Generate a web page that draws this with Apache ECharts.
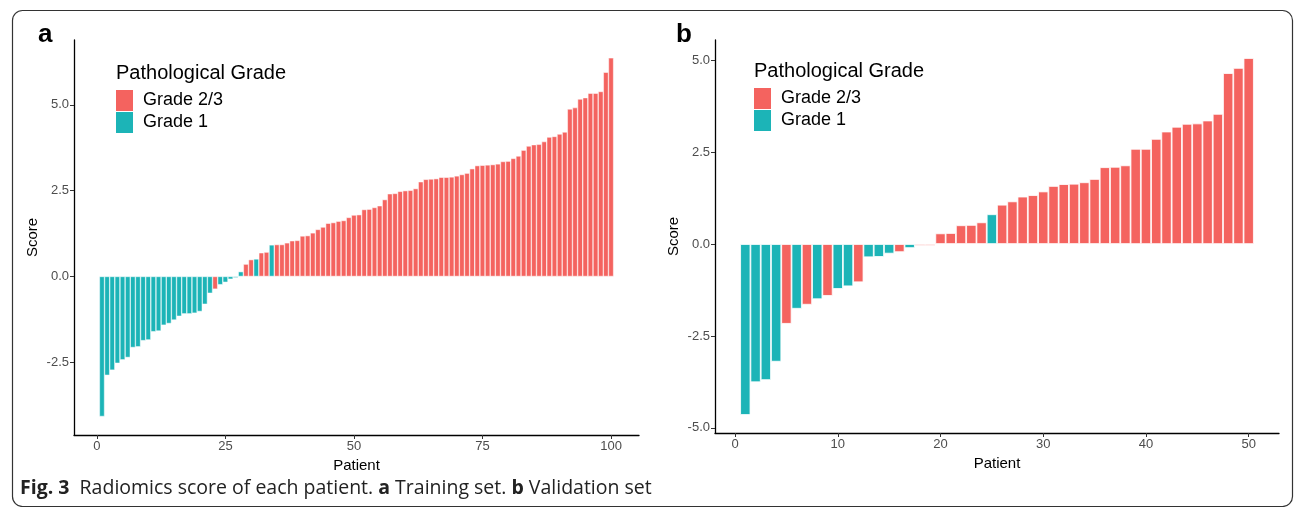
<!DOCTYPE html>
<html>
<head>
<meta charset="utf-8">
<script src="https://cdn.jsdelivr.net/npm/echarts@6/dist/echarts.min.js"></script>
<style>
  html, body { margin: 0; padding: 0; background: #fff; }
  #chart { width: 1295px; height: 507px; }
</style>
</head>
<body>
<div id="chart"></div>
<script>
// Training set (a): radiomics score per patient, sorted
const scoresA = [
  -4.08, -2.88, -2.73, -2.53, -2.43, -2.36, -2.07, -2.05, -1.87, -1.85,
  -1.61, -1.59, -1.42, -1.37, -1.27, -1.16, -1.09, -1.09, -1.07, -1.02,
  -0.81, -0.49, -0.37, -0.24, -0.17, -0.08, -0.04, 0.14, 0.36, 0.49,
  0.51, 0.69, 0.71, 0.92, 0.93, 0.93, 0.98, 1.04, 1.05, 1.18,
  1.19, 1.27, 1.37, 1.44, 1.55, 1.57, 1.61, 1.63, 1.72, 1.79,
  1.80, 1.95, 1.96, 2.01, 2.06, 2.24, 2.41, 2.42, 2.48, 2.50,
  2.51, 2.56, 2.76, 2.83, 2.84, 2.85, 2.89, 2.89, 2.90, 2.93,
  2.97, 3.01, 3.14, 3.23, 3.24, 3.25, 3.26, 3.28, 3.35, 3.36,
  3.44, 3.51, 3.68, 3.80, 3.84, 3.85, 3.93, 4.06, 4.08, 4.15,
  4.21, 4.88, 4.92, 5.17, 5.21, 5.34, 5.34, 5.39, 5.95, 6.37
];
// 1 = Grade 1, 2 = Grade 2/3
const gradesA = [
  1, 1, 1, 1, 1, 1, 1, 1, 1, 1,
  1, 1, 1, 1, 1, 1, 1, 1, 1, 1,
  1, 1, 2, 1, 1, 1, 1, 1, 2, 2,
  1, 2, 2, 1, 2, 2, 2, 2, 2, 2,
  2, 2, 2, 2, 2, 2, 2, 2, 2, 2,
  2, 2, 2, 2, 2, 2, 2, 2, 2, 2,
  2, 2, 2, 2, 2, 2, 2, 2, 2, 2,
  2, 2, 2, 2, 2, 2, 2, 2, 2, 2,
  2, 2, 2, 2, 2, 2, 2, 2, 2, 2,
  2, 2, 2, 2, 2, 2, 2, 2, 2, 2
];

// Validation set (b)
const scoresB = [
  -4.65, -3.76, -3.70, -3.20, -2.17, -1.76, -1.65, -1.50, -1.41, -1.22,
  -1.15, -1.04, -0.36, -0.35, -0.26, -0.22, -0.11, -0.05, -0.05, 0.29,
  0.30, 0.51, 0.52, 0.59, 0.81, 1.07, 1.16, 1.29, 1.33, 1.43,
  1.58, 1.63, 1.64, 1.68, 1.77, 2.09, 2.10, 2.14, 2.59, 2.59,
  2.86, 3.06, 3.19, 3.27, 3.28, 3.36, 3.54, 4.65, 4.79, 5.06
];
const gradesB = [
  1, 1, 1, 1, 2, 1, 2, 1, 2, 1,
  1, 2, 1, 1, 1, 2, 1, 2, 2, 2,
  2, 2, 2, 2, 1, 2, 2, 2, 2, 2,
  2, 2, 2, 2, 2, 2, 2, 2, 2, 2,
  2, 2, 2, 2, 2, 2, 2, 2, 2, 2
];

const gradeNames = { 2: "Grade 2/3", 1: "Grade 1" };
const gradeColors = { 2: "#F4635F", 1: "#1CB4B7" };

const xTicksA = [0, 25, 50, 75, 100];
const yTicksA = [-2.5, 0, 2.5, 5];
const xTicksB = [0, 10, 20, 30, 40, 50];
const yTicksB = [-5, -2.5, 0, 2.5, 5];

// plot areas (ggplot-like expanded ranges)
const gridA = { left: 74, top: 40, width: 565, height: 395 };
const gridB = { left: 715, top: 40, width: 564, height: 393 };
const xRangeA = [-4.44, 105.44], yRangeA = [-4.62, 6.89];
const xRangeB = [-1.95, 52.95], yRangeB = [-5.14, 5.55];

const FONT = "'Liberation Sans', Arial, sans-serif";

const chart = echarts.init(document.getElementById("chart"));

function pick(scores, grades, g) {
  return scores.map((v, i) => (grades[i] === g ? [i + 1, v] : null)).filter(Boolean);
}

const labelStyle = { color: "#4D4D4D", fontSize: 13, fontFamily: FONT };
const nameStyle = { color: "#000", fontSize: 15, fontFamily: FONT };

function xAxis(idx, range, ticks, gap) {
  return {
    type: "value", gridIndex: idx, min: range[0], max: range[1],
    name: "Patient", nameLocation: "middle", nameGap: gap, nameTextStyle: nameStyle,
    axisLine: { show: true, onZero: false, lineStyle: { color: "#000", width: 1.3 } },
    axisTick: { show: true, customValues: ticks, length: 4, lineStyle: { color: "#333" } },
    axisLabel: { customValues: ticks, margin: 5, ...labelStyle },
    splitLine: { show: false }
  };
}
function yAxis(idx, range, ticks) {
  return {
    type: "value", gridIndex: idx, min: range[0], max: range[1],
    name: "Score", nameLocation: "middle", nameGap: 34, nameRotate: 90, nameTextStyle: nameStyle,
    axisLine: { show: true, onZero: false, lineStyle: { color: "#000", width: 1.3 } },
    axisTick: { show: true, customValues: ticks, length: 4, lineStyle: { color: "#333" } },
    axisLabel: { customValues: ticks, margin: 5, formatter: v => v.toFixed(1), ...labelStyle },
    splitLine: { show: false }
  };
}

const bwA = gridA.width / (xRangeA[1] - xRangeA[0]);
const bwB = gridB.width / (xRangeB[1] - xRangeB[0]);

function barSeries(idx, scores, grades, g, bw) {
  return {
    name: gradeNames[g], type: "bar", xAxisIndex: idx, yAxisIndex: idx,
    barWidth: bw, barGap: "-100%",
    itemStyle: { color: gradeColors[g], borderColor: "#fff", borderWidth: idx === 0 ? 0.5 : 0.8 },
    data: pick(scores, grades, g), animation: false
  };
}

function legend(left, top) {
  return {
    orient: "vertical", left: left, top: top, icon: "rect", padding: 0,
    itemWidth: 17, itemHeight: 21, itemGap: 1,
    data: ["Grade 2/3", "Grade 1"],
    selectedMode: false,
    itemStyle: { borderWidth: 0 },
    textStyle: { color: "#000", fontSize: 18, lineHeight: 21, padding: [0, 0, 0, 5], fontFamily: FONT }
  };
}

const option = {
  backgroundColor: "#fff",
  animation: false,
  grid: [gridA, gridB],
  xAxis: [xAxis(0, xRangeA, xTicksA, 20), xAxis(1, xRangeB, xTicksB, 23)],
  yAxis: [yAxis(0, yRangeA, yTicksA), yAxis(1, yRangeB, yTicksB)],
  legend: [legend(116, 90), legend(754, 88)],
  series: [
    barSeries(0, scoresA, gradesA, 2, bwA),
    barSeries(0, scoresA, gradesA, 1, bwA),
    barSeries(1, scoresB, gradesB, 2, bwB),
    barSeries(1, scoresB, gradesB, 1, bwB)
  ],
  graphic: [
    { type: "rect", left: 10, top: 8, shape: { width: 1280, height: 496, r: 10 },
      style: { fill: "none", stroke: "#333", lineWidth: 1.2 }, silent: true },
    { type: "text", left: 38, top: 22,
      style: { text: "a", font: "bold 26px " + FONT, fill: "#000" } },
    { type: "text", left: 676, top: 22,
      style: { text: "b", font: "bold 26px " + FONT, fill: "#000" } },
    { type: "text", left: 116, top: 63,
      style: { text: "Pathological Grade", font: "20px " + FONT, fill: "#000" } },
    { type: "text", left: 754, top: 61,
      style: { text: "Pathological Grade", font: "20px " + FONT, fill: "#000" } },
    { type: "text", left: 20, top: 478,
      style: {
        text: "{b|Fig. 3}  Radiomics score of each patient. {b|a} Training set. {b|b} Validation set",
        font: "19.5px 'Open Sans', sans-serif", fill: "#222",
        rich: { b: { fontWeight: "bold", fontSize: 19.5, fontFamily: "'Open Sans', sans-serif", fill: "#222" } }
      } }
  ]
};

chart.setOption(option);
</script>
</body>
</html>
